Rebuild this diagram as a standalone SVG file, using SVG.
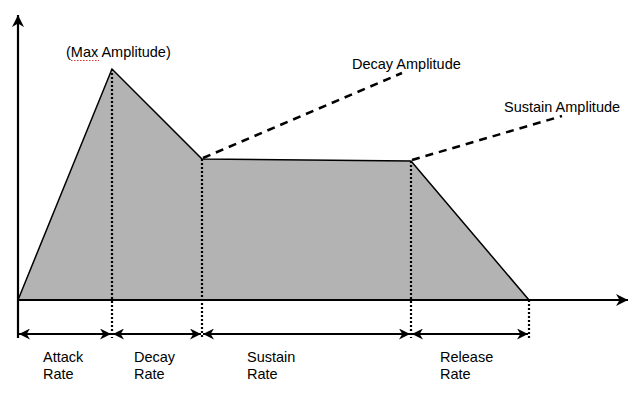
<svg xmlns="http://www.w3.org/2000/svg" width="640" height="399" viewBox="0 0 640 399">
<style>
text{font-family:"Liberation Sans",Arial,sans-serif;font-size:14.5px;fill:#000}
.dot{stroke:#000;stroke-width:2.2;stroke-dasharray:2 2;fill:none}
.dash{stroke:#000;stroke-width:2.5;stroke-dasharray:8 6;fill:none}
.ax{stroke:#000;stroke-width:2.2;fill:none}
.dim{stroke:#000;stroke-width:2;fill:none}
</style>
<defs>
<marker id="ah" viewBox="0 0 10 10" refX="10" refY="5" markerWidth="5.5" markerHeight="5.5" orient="auto-start-reverse" markerUnits="strokeWidth">
<path d="M0,0 L10,5 L0,10 L3,5 Z" fill="#000"/>
</marker>
</defs>
<g id="envelope">
<polygon points="18,300 112,69 202,159 411,161 529,300" fill="#b3b3b3" stroke="#000" stroke-width="1.5" stroke-linejoin="miter"/>
</g>
<g id="connectors">
<line class="ax" x1="18" y1="338" x2="18" y2="15" marker-end="url(#ah)"/>
<line class="ax" x1="17" y1="300" x2="628" y2="300" marker-end="url(#ah)"/>
<line class="dot" x1="112" y1="69" x2="112" y2="338"/>
<line class="dot" x1="202" y1="159" x2="202" y2="338"/>
<line class="dot" x1="411" y1="161" x2="411" y2="338"/>
<line class="dot" x1="529" y1="300" x2="529" y2="338"/>
<line class="dash" x1="203" y1="158" x2="402" y2="73"/>
<line class="dash" x1="412" y1="160" x2="562" y2="116"/>
<line class="dim" x1="19" y1="334" x2="111" y2="334" marker-start="url(#ah)" marker-end="url(#ah)"/>
<line class="dim" x1="113" y1="334" x2="201" y2="334" marker-start="url(#ah)" marker-end="url(#ah)"/>
<line class="dim" x1="203" y1="334" x2="410" y2="334" marker-start="url(#ah)" marker-end="url(#ah)"/>
<line class="dim" x1="412" y1="334" x2="528" y2="334" marker-start="url(#ah)" marker-end="url(#ah)"/>
</g>
<g id="labels">
<text x="66" y="57">(Max Amplitude)</text>
<line x1="71" y1="60.5" x2="99" y2="60.5" stroke="#e03030" stroke-width="1.2" stroke-dasharray="1.5 1.5"/>
<text x="352" y="69">Decay Amplitude</text>
<text x="504" y="112">Sustain Amplitude</text>
<text x="43" y="362">Attack</text>
<text x="43" y="379">Rate</text>
<text x="134" y="362">Decay</text>
<text x="134" y="379">Rate</text>
<text x="247" y="362">Sustain</text>
<text x="247" y="379">Rate</text>
<text x="440" y="362">Release</text>
<text x="440" y="379">Rate</text>
</g>
</svg>
